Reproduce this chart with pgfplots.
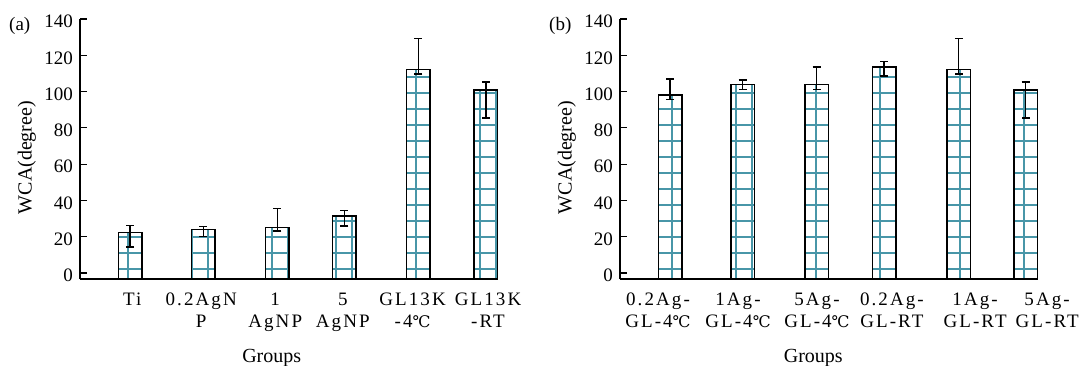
\documentclass[border=0pt]{standalone}
\usepackage{fontspec}
\setmainfont{Liberation Serif}
\newfontfamily\degfont{DejaVu Serif}
\usepackage{pgfplots}
\pgfplotsset{compat=1.18}
\usepackage{pgfplotstable}
\usetikzlibrary{patterns.meta}
\definecolor{gridteal}{RGB}{72,150,168}
\newcommand{\dC}{{\degfont\fontsize{16}{22}\selectfont ℃}}
\newcommand{\fs}{\fontsize{19}{22}\selectfont}
\newcommand{\fl}{\fontsize{20}{22}\selectfont}

% x = category position, y = WCA (degree), ep/em = error plus/minus
\pgfplotstableread{
x    y     ep    em
0    22.2  4.1   7.8
1.03 24.1  1.4   4.1
2.07 25.2  10.4  2.1
3.01 31.4  2.9   5.5
4.05 112.2 16.9  2.6
5    101.0 4.2   15.6
}\dataA

\pgfplotstableread{
x    y     ep    em
0    98.1  8.9   2.4
1.02 104.0 2.3   2.8
2.06 104.0 9.5   2.8
3.01 113.5 3.1   5.0
4.06 112.2 16.9  2.6
5    101.0 4.2   15.6
}\dataB

\pgfplotsset{
  wca/.style={
    scale only axis, width=418pt, height=260pt,
    xmin=-0.703, xmax=5.17,
    ymin=0, ymax=143.3,
    ytick={3.3,23.3,43.3,63.3,83.3,103.3,123.3,143.3},
    yticklabels={0,20,40,60,80,100,120,140},
    axis lines=left,
    axis line style={-, line width=1.3pt, black},
    tick align=inside,
    major tick length=7pt,
    ytick style={line width=1.2pt, black},
    xtick style={draw=none},
    /pgf/number format/assume math mode=true,
    every tick label/.append style={font=\fs},
    yticklabel style={font=\fs, inner sep=0pt, anchor=east, xshift=-7pt, yshift=-2.5pt},
    xticklabel style={font=\fs\addfontfeatures{LetterSpace=11}, align=center, anchor=north, inner sep=0pt, yshift=-13.5pt},
    every axis y label/.style={at={(axis description cs:-0.1156,0.467)}, rotate=90, anchor=base, font=\fl},
    ylabel={WCA(degree)},
    xlabel={Groups},
    clip=false,
  },
  wcabar/.style={
    ybar, bar width=23.5pt, draw=black, line width=1.5pt,
    pattern={Hatch[angle=0,distance=16pt,line width=1.5pt]}, pattern color=gridteal,
    error bars/.cd, y dir=both, y explicit,
    error bar style={line width=1.4pt, black},
    error mark=|,
    error mark options={line width=1.4pt, mark size=4pt, black},
  },
}

\begin{document}
\fs
\begin{tikzpicture}[font=\fs]
\useasboundingbox (0,0) rectangle (1085pt,365pt);

\begin{axis}[wca, at={(80pt,86pt)}, anchor=south west,
  xtick={0.03,1.0,2.04,2.99,3.97,5.03},
  xticklabels={Ti, {0.2AgN\\P}, {1\\AgNP}, {5\\AgNP}, {GL13K\\-4\dC}, {GL13K\\-RT}},
  every axis x label/.style={at={(axis description cs:0.4586,0)}, anchor=base, yshift=-83.7pt, font=\fl},
]
\addplot[wcabar] table[x=x, y expr=\thisrow{y}+3.3, y error plus=ep, y error minus=em]{\dataA};
\end{axis}

\begin{axis}[wca, at={(620pt,86pt)}, anchor=south west, width=417.7pt,
  xtick={-0.169,0.956,2.066,3.12,4.29,5.12},
  xticklabels={{0.2Ag-\\GL-4\dC}, {1Ag-\\GL-4\dC}, {5Ag-\\GL-4\dC}, {0.2Ag-\\GL-RT}, {1Ag-\\GL-RT}, {\hspace*{26pt}5Ag-\\\hspace*{26pt}GL-RT}},
  every axis x label/.style={at={(axis description cs:0.4628,0)}, anchor=base, yshift=-83.7pt, font=\fl},
]
\addplot[wcabar] table[x=x, y expr=\thisrow{y}+3.3, y error plus=ep, y error minus=em]{\dataB};
\end{axis}

\node[anchor=base west, font=\fs, inner sep=0pt] at (9pt,334pt) {(a)};
\node[anchor=base west, font=\fs, inner sep=0pt] at (549pt,334pt) {(b)};
\end{tikzpicture}
\end{document}
